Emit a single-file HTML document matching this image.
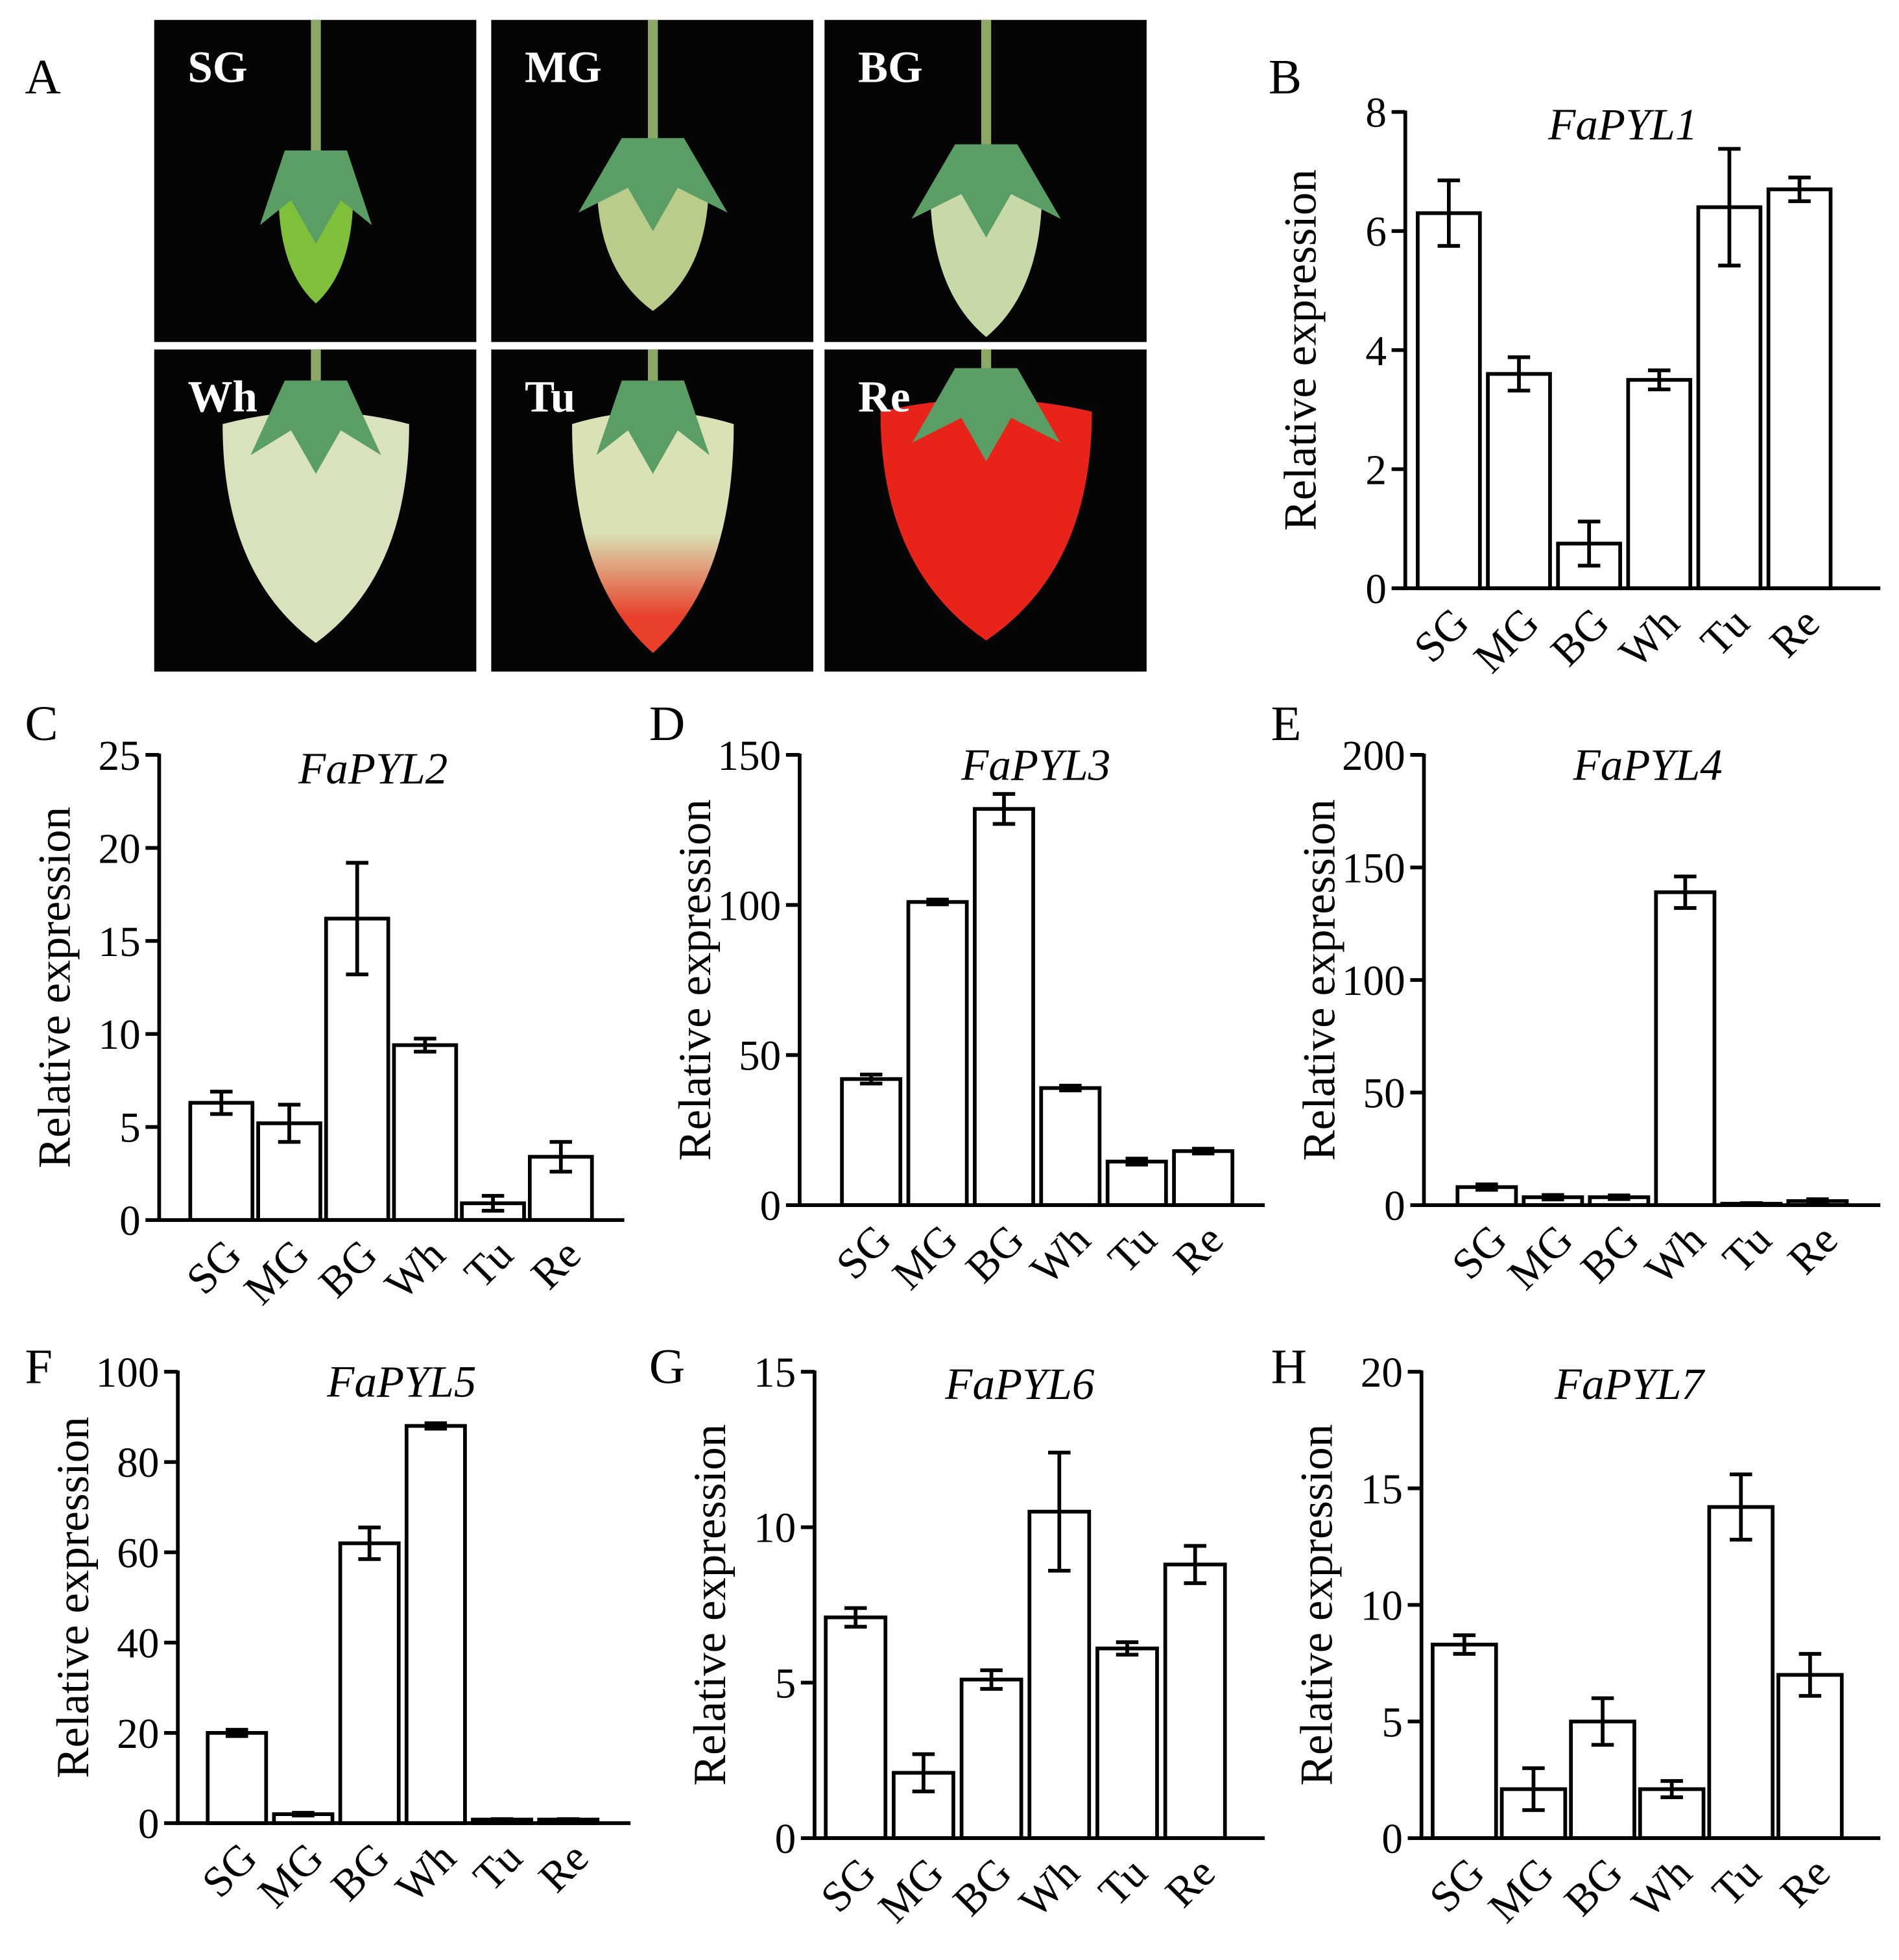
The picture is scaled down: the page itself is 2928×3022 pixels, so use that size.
<!DOCTYPE html>
<html><head><meta charset="utf-8"><style>
html,body{margin:0;padding:0;background:#fff}
svg{display:block}
text{font-family:"Liberation Serif",serif;fill:#000}
</style></head><body>
<svg id="fig" width="2928" height="3022" viewBox="0 0 1527 1576" xmlns="http://www.w3.org/2000/svg">
<g id="photos"></g>
<g id="charts"></g>
</svg>
<script>
const NS="http://www.w3.org/2000/svg";
function mk(tag,attrs,parent){const e=document.createElementNS(NS,tag);for(const k in attrs)e.setAttribute(k,attrs[k]);parent.appendChild(e);return e;}
const stages=["SG","MG","BG","Wh","Tu","Re"];
// ---- Panel A photos ----
const photos=document.getElementById('photos');
const pl=mk('text',{x:20,y:75,'font-size':40},photos);pl.textContent='A';


const tileX=[124,395,663], tileY=[16,281];
const fruitFill=["#7fbf3a","#b9cc8a","#c8d9a8","#d8e3bd","url(#tuGrad)","#e8231a"];
const fruitSize=[[30,55],[45,65],[45,75],[75,110],[65,115],[85,115]];
const fruitTop=[140,130,135,60,60,50];
const defs=mk('defs',{},photos);
const lg=mk('linearGradient',{id:'tuGrad',x1:0,y1:0,x2:0,y2:1},defs);
mk('stop',{offset:'0.5','stop-color':'#d9e2b5'},lg);mk('stop',{offset:'0.85','stop-color':'#e8402a'},lg);
stages.forEach((s,i)=>{
  const x=tileX[i%3], y=tileY[Math.floor(i/3)];
  const g=mk('g',{},photos);
  
  
  mk('rect',{x:x,y:y,width:259,height:259,fill:'#050505'},g);
  const cx=x+130, [w,h]=fruitSize[i];
  const top=y+fruitTop[i];
  mk('path',{d:`M${cx-w} ${top} Q${cx-w} ${top+h*1.1} ${cx} ${top+h*1.6} Q${cx+w} ${top+h*1.1} ${cx+w} ${top} Q${cx} ${top-20} ${cx-w} ${top}Z`,fill:fruitFill[i]},g);
  mk('rect',{x:cx-4,y:y,width:8,height:fruitTop[i]-30,fill:'#8ca865'},g);
  const cw=i<3?w+15:w*0.7;
  mk('path',{d:`M${cx-cw} ${top+25} L${cx-25} ${top-35} L${cx+25} ${top-35} L${cx+cw} ${top+25} L${cx+20} ${top+5} L${cx} ${top+40} L${cx-20} ${top+5}Z`,fill:'#5a9e66'},g);
  const t=mk('text',{x:x+27,y:y+50,'font-size':36,'font-weight':'bold',style:'fill:#fff'},g);t.textContent=s;
  
  
});
// ---- chart data ----
const geneB=[6.3,3.6,0.75,3.5,6.4,6.7], errB=[0.55,0.28,0.37,0.16,0.98,0.2], ticksB=[0,2,4,6,8];
const geneC=[6.3,5.2,16.2,9.4,0.9,3.4], errC=[0.6,1.0,3.0,0.35,0.4,0.8], ticksC=[0,5,10,15,20,25];
const geneD=[42,101,132,39,14.5,18], errD=[1.5,0.8,5,0.8,1,0.8], ticksD=[0,50,100,150];
const geneE=[8,3.5,3.5,139,0.6,1.8], errE=[1.2,1,0.8,7,0.3,0.8], ticksE=[0,50,100,150,200];
const geneF=[20,2,62,88,0.8,0.8], errF=[0.7,0.3,3.5,0.6,0.1,0.1], ticksF=[0,20,40,60,80,100];
const geneG=[7.1,2.1,5.1,10.5,6.1,8.8], errG=[0.3,0.6,0.3,1.9,0.2,0.6], ticksG=[0,5,10,15];
const geneH=[8.3,2.1,5.0,2.1,14.2,7.0], errH=[0.4,0.9,1.0,0.35,1.4,0.9], ticksH=[0,5,10,15,20];
const panels=[
 {L:'B',gene:'FaPYL1',v:geneB,e:errB,t:ticksB,ax:1130,top:90,zero:473,right:1512,off:10,pitch:56.4,bw:50,tx:1305,ty:112},
 {L:'C',gene:'FaPYL2',v:geneC,e:errC,t:ticksC,ax:128,top:607,zero:981,right:502,off:25,pitch:54.6,bw:50,tx:300,ty:630},
 {L:'D',gene:'FaPYL3',v:geneD,e:errD,t:ticksD,ax:643,top:607,zero:969,right:1017,off:34,pitch:53.4,bw:47,tx:833,ty:627},
 {L:'E',gene:'FaPYL4',v:geneE,e:errE,t:ticksE,ax:1145,top:607,zero:969,right:1512,off:27,pitch:53.2,bw:47,tx:1325,ty:627},
 {L:'F',gene:'FaPYL5',v:geneF,e:errF,t:ticksF,ax:143,top:1103,zero:1466,right:507,off:24,pitch:53.3,bw:47,tx:323,ty:1123},
 {L:'G',gene:'FaPYL6',v:geneG,e:errG,t:ticksG,ax:655,top:1103,zero:1478,right:1017,off:9,pitch:54.6,bw:48,tx:820,ty:1125},
 {L:'H',gene:'FaPYL7',v:geneH,e:errH,t:ticksH,ax:1143,top:1103,zero:1478,right:1512,off:9,pitch:55.6,bw:51,tx:1310,ty:1125}
];
const letterPos={B:[1020,75],C:[20,595],D:[522,595],E:[1022,595],F:[20,1112],G:[522,1112],H:[1022,1112]};
const charts=document.getElementById('charts');
panels.forEach(p=>{
  const g=mk('g',{},charts);
  
  
  const ymax=p.t[p.t.length-1];
  const Y=v=>p.zero-(v/ymax)*(p.zero-p.top);
  const X=i=>p.ax+p.off+i*p.pitch;
  const lt=mk('text',{x:letterPos[p.L][0],y:letterPos[p.L][1],'font-size':40},g);lt.textContent=p.L;
  
  
  const ti=mk('text',{x:p.tx,y:p.ty,'font-size':36,'font-style':'italic','text-anchor':'middle'},g);ti.textContent=p.gene;
  
  
  const yl=mk('text',{x:0,y:0,'font-size':37,'text-anchor':'middle',transform:`translate(${p.ax-72},${(p.top+p.zero)/2}) rotate(-90)`},g);yl.textContent='Relative expression';
  
  
  const yaxis=mk('line',{x1:p.ax,y1:p.top-1,x2:p.ax,y2:p.zero+1.5,stroke:'#000','stroke-width':3},g);
  
  
  p.t.forEach(t=>{
    mk('line',{x1:p.ax-11,y1:Y(t),x2:p.ax,y2:Y(t),stroke:'#000','stroke-width':3},g);
    const tl=mk('text',{x:p.ax-15,y:Y(t)+12,'font-size':34,'text-anchor':'end'},g);tl.textContent=t;
    
    
  });
  p.v.forEach((v,i)=>{
    const bar=mk('rect',{x:X(i),y:Y(v),width:p.bw,height:p.zero-Y(v),fill:'#fff',stroke:'#000','stroke-width':3},g);
    
    
    const cx=X(i)+p.bw/2, hi=Y(v+p.e[i]), lo=Y(Math.max(0,v-p.e[i]));
    const eb=mk('path',{d:`M${cx} ${hi}V${lo}M${cx-9} ${hi}H${cx+9}M${cx-9} ${lo}H${cx+9}`,stroke:'#000','stroke-width':3,fill:'none'},g);
    
    
    const xl=mk('text',{x:0,y:0,'font-size':35,'text-anchor':'end',transform:`translate(${cx+18},${p.zero+30}) rotate(-45)`},g);xl.textContent=stages[i];
    
    
  });
  const xaxis=mk('line',{x1:p.ax-1.5,y1:p.zero,x2:p.right,y2:p.zero,stroke:'#000','stroke-width':3},g);
  
  
});
</script>
</body></html>
